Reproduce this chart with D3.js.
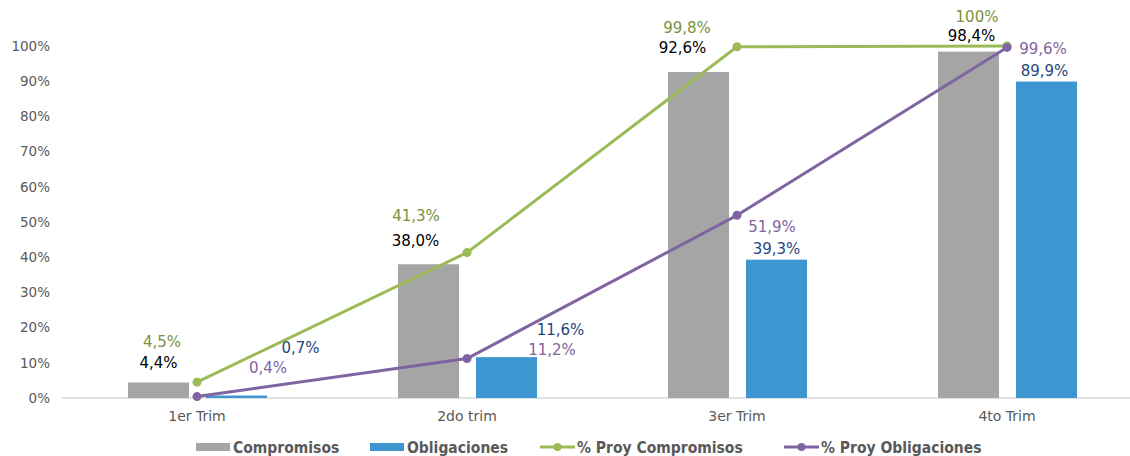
<!DOCTYPE html>
<html><head><meta charset="utf-8">
<script src="https://cdn.jsdelivr.net/npm/d3@7"></script>
<style>body{margin:0;background:#fff}svg{display:block}</style>
</head><body>
<svg id="c" width="1130" height="456"></svg>
<script>
const categories = ["1er Trim", "2do trim", "3er Trim", "4to Trim"];
const compromisos = [4.4, 38.0, 92.6, 98.4];
const obligaciones = [0.7, 11.6, 39.3, 89.9];
const proyCompromisos = [4.5, 41.3, 99.8, 100];
const proyObligaciones = [0.4, 11.2, 51.9, 99.6];
const compLabels = ["4,4%", "38,0%", "92,6%", "98,4%"];
const oblLabels = ["0,7%", "11,6%", "39,3%", "89,9%"];
const pcLabels = ["4,5%", "41,3%", "99,8%", "100%"];
const poLabels = ["0,4%", "11,2%", "51,9%", "99,6%"];
const yTicks = [0,10,20,30,40,50,60,70,80,90,100];

// label placement offsets (layout)
const compOff = [[0,-15],[-13,-18],[-16,-19],[3,-11]];
const oblOff = [[64,-43],[54,-22],[0,-6],[-2,-6]];
const pcOff = [[-35,-35],[-51,-32],[-50,-14],[-30,-24]];
const poOff = [[71,-24],[85,-4],[35,17],[36,7]];

const svg = d3.select("#c");
const font = "'DejaVu Sans', Verdana, sans-serif";
const x = d3.scaleBand().domain(categories).range([62, 1142]);
const y = d3.scaleLinear().domain([0, 100]).range([398, 46]);
const cx = c => x(c) + x.bandwidth()/2;
const bw = 61;
const C = {gray:"#A5A5A5", blue:"#3E96D1", green:"#9BBB59", purple:"#8064A2"};

// y tick labels
svg.append("g").selectAll("text").data(yTicks).join("text")
  .attr("x", 50).attr("y", d => y(d)).attr("dy", "0.35em")
  .attr("text-anchor", "end").attr("font-family", font).attr("font-size", 13.5)
  .attr("fill", "#595959").text(d => d + "%");

// axis line
svg.append("line").attr("x1", 62).attr("x2", 1130).attr("y1", y(0)).attr("y2", y(0))
  .attr("stroke", "#D9D9D9").attr("stroke-width", 1.5);

// category labels
svg.append("g").selectAll("text").data(categories).join("text")
  .attr("x", d => cx(d)).attr("y", 421).attr("text-anchor", "middle")
  .attr("font-family", font).attr("font-size", 14).attr("fill", "#595959").text(d => d);

// bars
svg.append("g").selectAll("rect").data(compromisos).join("rect")
  .attr("x", (d,i) => cx(categories[i]) - 8 - bw).attr("width", bw)
  .attr("y", d => y(d)).attr("height", d => y(0) - y(d)).attr("fill", C.gray);
svg.append("g").selectAll("rect").data(obligaciones).join("rect")
  .attr("x", (d,i) => cx(categories[i]) + 9).attr("width", bw)
  .attr("y", d => y(d)).attr("height", d => y(0) - y(d)).attr("fill", C.blue);

// lines
const line = d3.line().x((d,i) => cx(categories[i])).y(d => y(d));
[[proyCompromisos, C.green], [proyObligaciones, C.purple]].forEach(([data, col]) => {
  svg.append("path").datum(data).attr("d", line).attr("fill", "none")
    .attr("stroke", col).attr("stroke-width", 3).attr("stroke-linejoin", "round");
  svg.append("g").selectAll("circle").data(data).join("circle")
    .attr("cx", (d,i) => cx(categories[i])).attr("cy", d => y(d)).attr("r", 4.5).attr("fill", col);
});

// data labels
function labels(vals, texts, off, baseX, col) {
  svg.append("g").selectAll("text").data(vals).join("text")
    .attr("x", (d,i) => baseX(i) + off[i][0]).attr("y", (d,i) => y(d) + off[i][1])
    .attr("text-anchor", "middle").attr("font-family", font).attr("font-size", 15)
    .attr("fill", col).text((d,i) => texts[i]);
}
labels(compromisos, compLabels, compOff, i => cx(categories[i]) - 8 - bw/2, "#000000");
labels(obligaciones, oblLabels, oblOff, i => cx(categories[i]) + 9 + bw/2, "#1F497D");
labels(proyCompromisos, pcLabels, pcOff, i => cx(categories[i]), "#77933C");
labels(proyObligaciones, poLabels, poOff, i => cx(categories[i]), "#8064A2");

// legend
const lf = "'DejaVu Sans Condensed', 'DejaVu Sans', sans-serif";
const leg = [
  {name:"Compromisos", col:C.gray, type:"rect", x:196},
  {name:"Obligaciones", col:C.blue, type:"rect", x:370},
  {name:"% Proy Compromisos", col:C.green, type:"line", x:540},
  {name:"% Proy Obligaciones", col:C.purple, type:"line", x:784}
];
const lg = svg.append("g");
leg.forEach(l => {
  if (l.type === "rect") {
    lg.append("rect").attr("x", l.x).attr("y", 443).attr("width", 34).attr("height", 8).attr("fill", l.col);
  } else {
    lg.append("line").attr("x1", l.x).attr("x2", l.x + 35).attr("y1", 447).attr("y2", 447)
      .attr("stroke", l.col).attr("stroke-width", 3);
    lg.append("circle").attr("cx", l.x + 17.5).attr("cy", 447).attr("r", 4).attr("fill", l.col);
  }
  lg.append("text").attr("x", l.x + 37).attr("y", 453).attr("font-family", lf)
    .attr("font-weight", "bold").attr("font-size", 15.5).attr("fill", "#595959").text(l.name);
});
</script>
</body></html>
